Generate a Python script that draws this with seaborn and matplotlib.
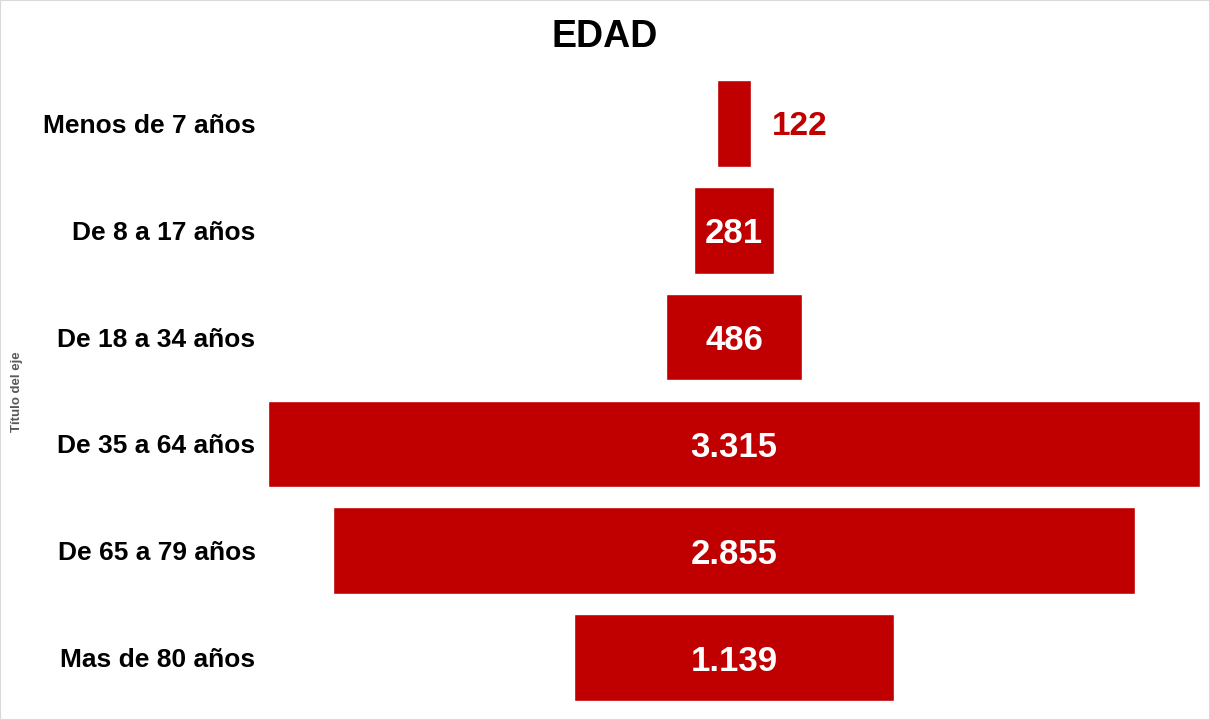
import matplotlib
matplotlib.use("Agg")
import matplotlib.pyplot as plt
import seaborn as sns
from matplotlib.patches import Rectangle

# datos del embudo
categorias = ["Menos de 7 años", "De 8 a 17 años", "De 18 a 34 años",
              "De 35 a 64 años", "De 65 a 79 años", "Mas de 80 años"]
valores = [122, 281, 486, 3315, 2855, 1139]

rojo = "#C00000"

sns.set_style("white")
plt.rcParams['font.family'] = ['Liberation Sans', 'DejaVu Sans']
plt.rcParams['text.color'] = 'black'
plt.rcParams['ytick.color'] = 'black'

fig = plt.figure(figsize=(12.1, 7.2), dpi=100)
ax = fig.add_axes([268/1210, 1 - 711/720, (1200 - 268)/1210, (711 - 70)/720])

sns.barplot(x=valores, y=categorias, color=rojo, saturation=1, width=0.81,
            orient="h", ax=ax)

# centrar cada barra para formar el embudo
for p in ax.patches:
    p.set_x(-p.get_width() / 2)

vmax = max(valores)
ax.set_xlim(-vmax / 2, vmax / 2)
ax.set_ylim(5.5, -0.5)

# etiquetas de datos
for i, v in enumerate(valores):
    txt = f"{v:,}".replace(",", ".")
    if v < 200:
        ax.text(v / 2 + 75, i, txt, color=rojo, fontsize=24, fontweight="bold",
                ha="left", va="center_baseline")
    else:
        ax.text(0, i, txt, color="white", fontsize=25, fontweight="bold",
                ha="center", va="center_baseline")

ax.set_xticks([])
ax.tick_params(axis="y", length=0, pad=9, labelsize=19, labelcolor="black")
for lbl in ax.get_yticklabels():
    lbl.set_fontweight("bold")
    lbl.set_verticalalignment("center_baseline")
sns.despine(ax=ax, left=True, bottom=True)

ax.set_xlabel("")
ax.set_ylabel("")
fig.text(17/1210, 1 - 392/720, "Título del eje", rotation=90, color="#595959",
         fontsize=9.5, fontweight="bold", ha="center", va="center")

fig.suptitle("EDAD", fontsize=27, fontweight="bold", y=1 - 37/720,
             va="center", color="black")

# marco gris del gráfico
fig.patches.append(Rectangle((0, 0), 1, 1, transform=fig.transFigure,
                             fill=False, edgecolor="#D9D9D9", linewidth=1.5))

fig.savefig("out.png", dpi=100)
